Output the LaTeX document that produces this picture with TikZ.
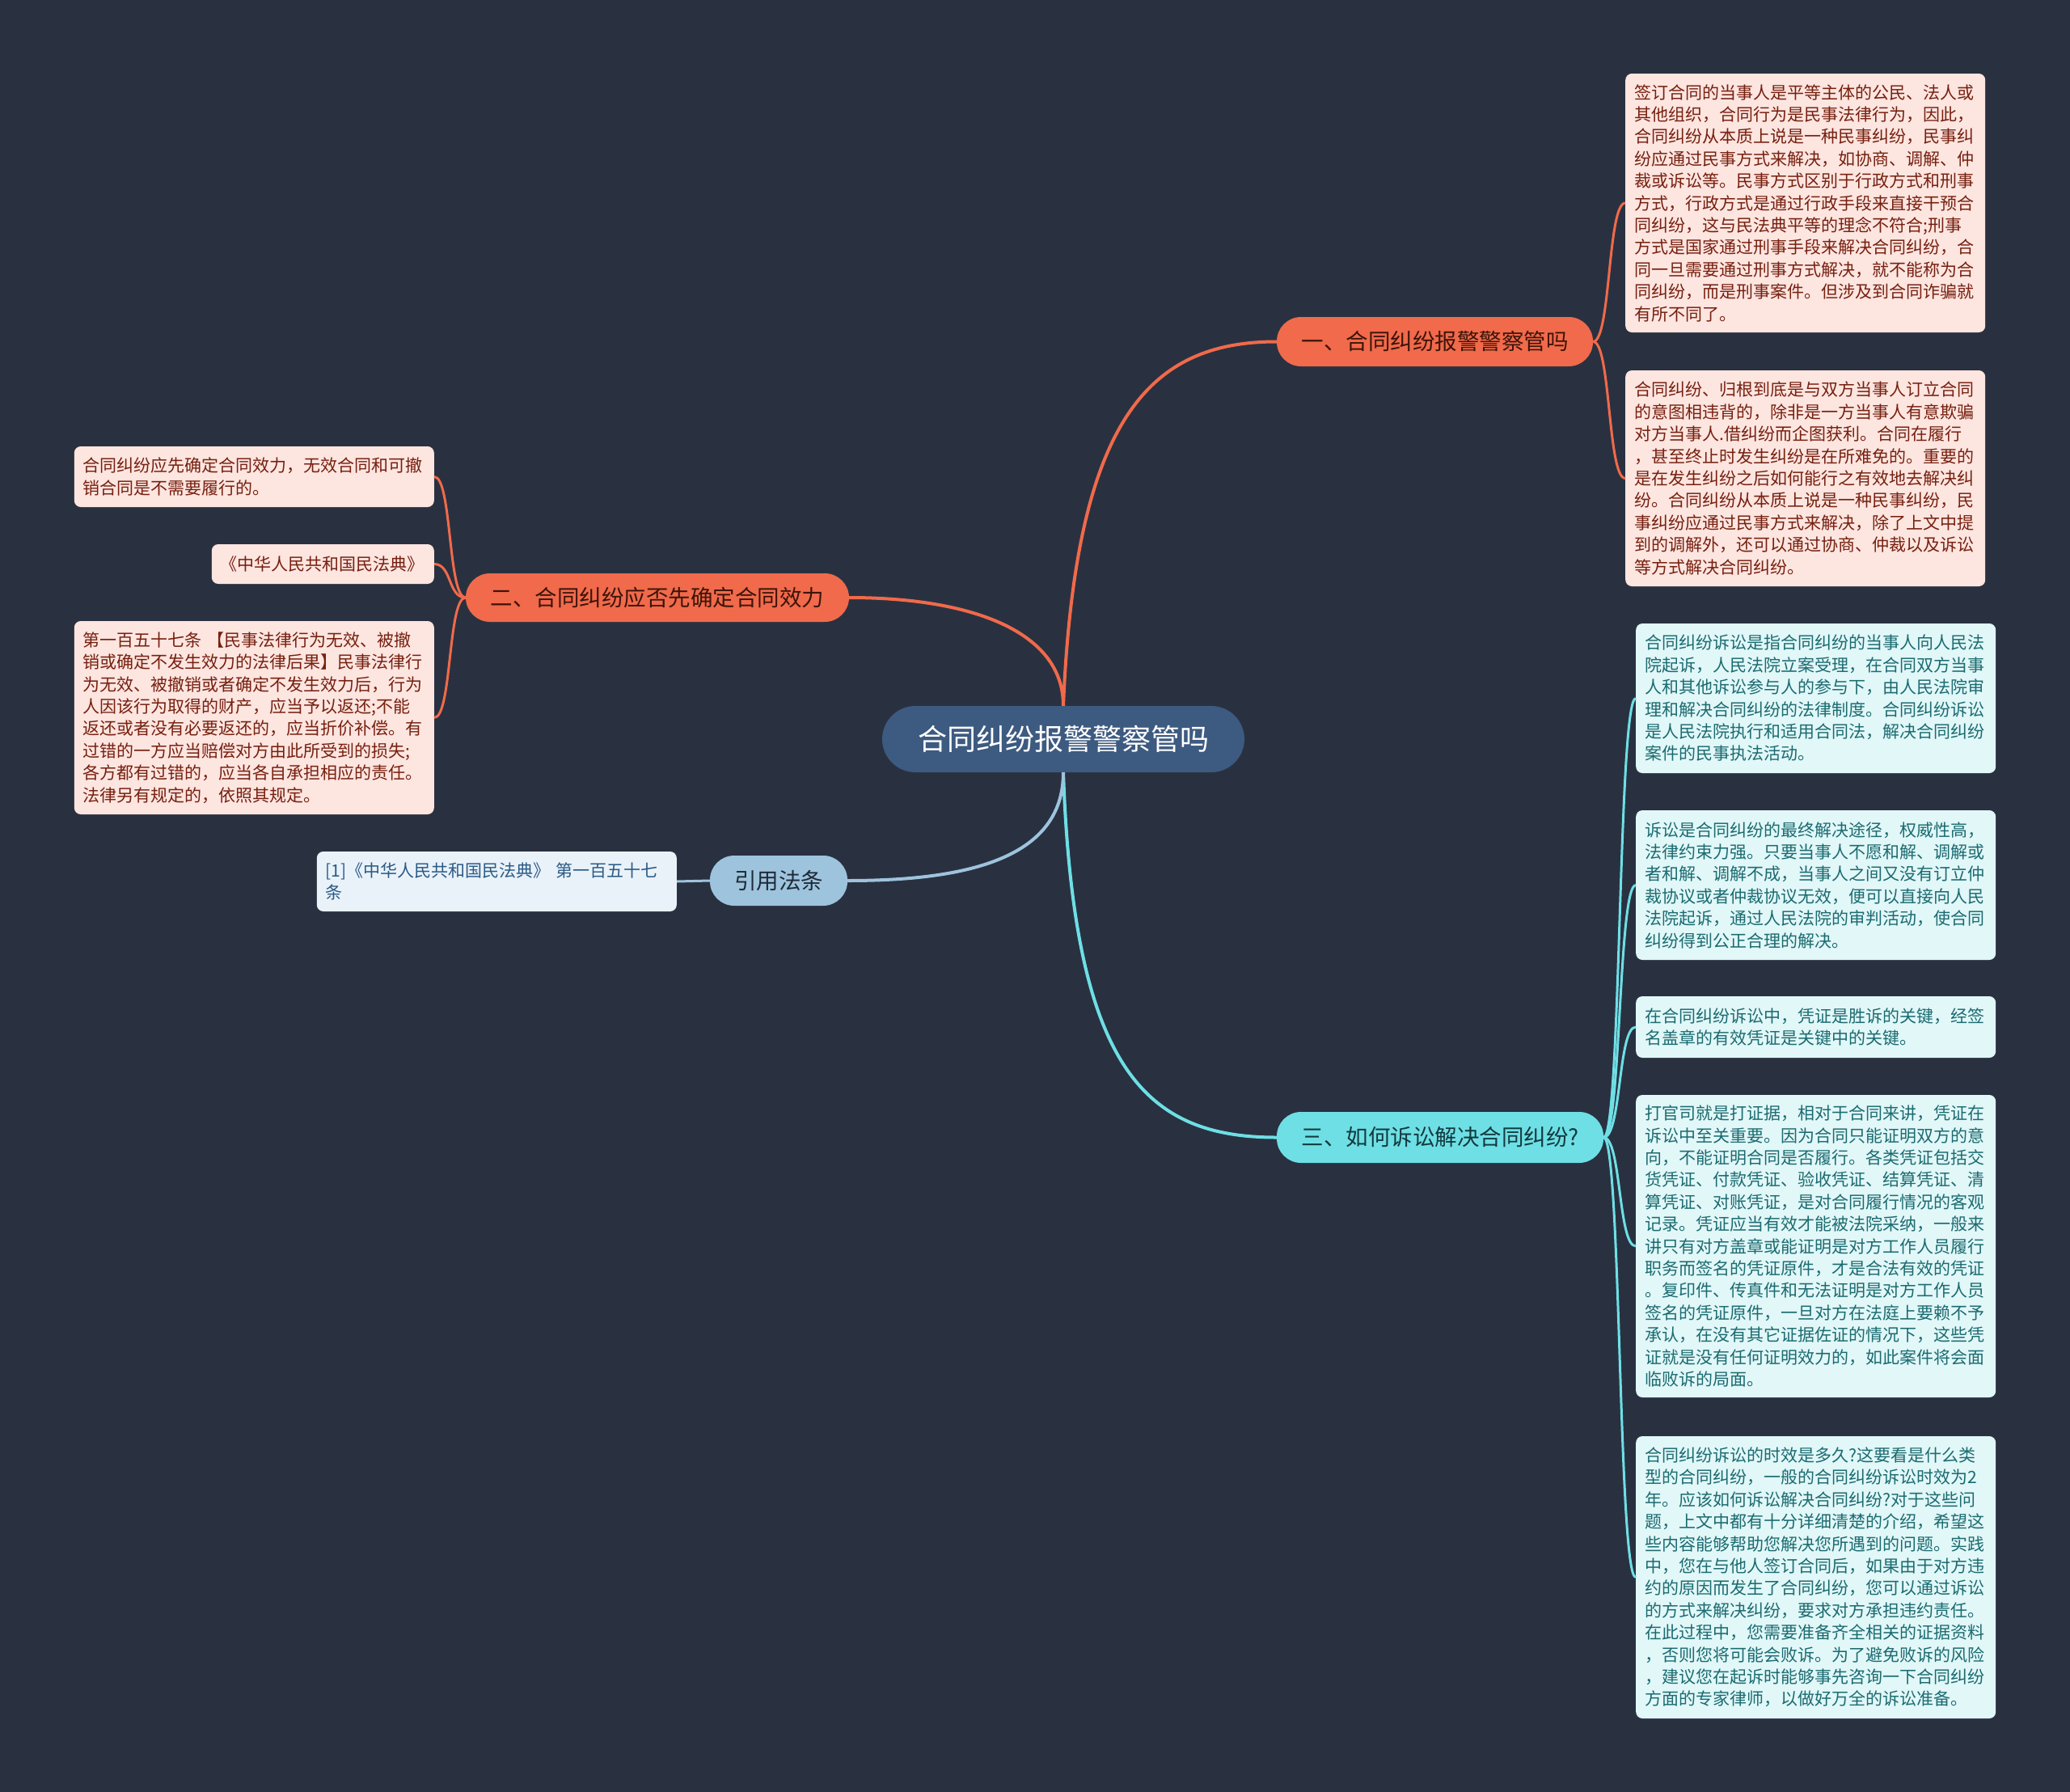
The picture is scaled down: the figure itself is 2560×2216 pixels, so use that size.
\documentclass[tikz,border=0pt]{standalone}
\usepackage{fontspec}
\setmainfont{Noto Sans CJK SC}
\definecolor{bg}{HTML}{293140}
\definecolor{orng}{HTML}{F06A4B}
\definecolor{pinkfill}{HTML}{FDE5E0}
\definecolor{pinktext}{HTML}{76200F}
\definecolor{b1text}{HTML}{3D1409}
\definecolor{cyanline}{HTML}{6EDFE5}
\definecolor{cyanfill}{HTML}{E1F7F8}
\definecolor{cyantext}{HTML}{1B6B70}
\definecolor{b3text}{HTML}{123A3E}
\definecolor{rootfill}{HTML}{3D5A80}
\definecolor{refline}{HTML}{9EC3DD}
\definecolor{reffill}{HTML}{E9F2F9}
\definecolor{reftext}{HTML}{2A5A86}
\definecolor{refnodetext}{HTML}{1E2A38}
\begin{document}
\begin{tikzpicture}[x=1pt,y=-1pt,
  rootnode/.style={rounded corners=41pt, fill=rootfill, text=white, font=\fontsize{36}{40}\selectfont, minimum width=448pt, minimum height=82pt, inner sep=0pt},
  branchnode/.style={rounded corners=30pt, minimum height=61pt, inner sep=0pt, font=\fontsize{27.5}{30}\selectfont},
  leafbox/.style={rounded corners=8pt, inner xsep=11pt, inner ysep=0pt, align=left, font=\fontsize{21}{27.4}\selectfont},
  pinkleaf/.style={leafbox, fill=pinkfill, text=pinktext},
  cyanleaf/.style={leafbox, fill=cyanfill, text=cyantext},
  mainline/.style={line width=4pt},
  subline/.style={line width=3pt}
]
\useasboundingbox (0,0) rectangle (2560,2216);
\fill[bg] (0,0) rectangle (2560,2216);

% root and branches
\node[rootnode] (root) at (1315,914) {合同纠纷报警警察管吗};
\node[branchnode, fill=orng, text=b1text, minimum width=391pt] (b1) at (1774.5,422.5) {一、合同纠纷报警警察管吗};
\node[branchnode, fill=orng, text=b1text, minimum width=474pt, minimum height=60pt] (b2) at (813,739) {二、合同纠纷应否先确定合同效力};
\node[branchnode, fill=cyanline, text=b3text, minimum width=404pt, minimum height=63pt] (b3) at (1781,1406.5) {三、如何诉讼解决合同纠纷?};
\node[branchnode, fill=refline, text=refnodetext, minimum width=170pt, minimum height=62pt] (rf) at (963,1089) {引用法条};

% branch 1 leaves
\node[pinkleaf, anchor=west, text width=423pt, minimum height=320pt] (p1) at (2010,251) {签订合同的当事人是平等主体的公民、法人或\\其他组织，合同行为是民事法律行为，因此，\\合同纠纷从本质上说是一种民事纠纷，民事纠\\纷应通过民事方式来解决，如协商、调解、仲\\裁或诉讼等。民事方式区别于行政方式和刑事\\方式，行政方式是通过行政手段来直接干预合\\同纠纷，这与民法典平等的理念不符合;刑事\\方式是国家通过刑事手段来解决合同纠纷，合\\同一旦需要通过刑事方式解决，就不能称为合\\同纠纷，而是刑事案件。但涉及到合同诈骗就\\有所不同了。};
\node[pinkleaf, anchor=west, text width=423pt, minimum height=267pt] (p2) at (2010,591.5) {合同纠纷、归根到底是与双方当事人订立合同\\的意图相违背的，除非是一方当事人有意欺骗\\对方当事人.借纠纷而企图获利。合同在履行\\，甚至终止时发生纠纷是在所难免的。重要的\\是在发生纠纷之后如何能行之有效地去解决纠\\纷。合同纠纷从本质上说是一种民事纠纷，民\\事纠纷应通过民事方式来解决，除了上文中提\\到的调解外，还可以通过协商、仲裁以及诉讼\\等方式解决合同纠纷。};

% branch 2 leaves
\node[pinkleaf, anchor=east, text width=423pt, minimum height=75pt] (la) at (537,589.5) {合同纠纷应先确定合同效力，无效合同和可撤\\销合同是不需要履行的。};
\node[pinkleaf, anchor=east, text width=253pt, minimum height=49pt] (lb) at (537,697.5) {《中华人民共和国民法典》};
\node[pinkleaf, anchor=east, text width=423pt, minimum height=239pt] (lc) at (537,887.5) {第一百五十七条 【民事法律行为无效、被撤\\销或确定不发生效力的法律后果】民事法律行\\为无效、被撤销或者确定不发生效力后，行为\\人因该行为取得的财产，应当予以返还;不能\\返还或者没有必要返还的，应当折价补偿。有\\过错的一方应当赔偿对方由此所受到的损失;\\各方都有过错的，应当各自承担相应的责任。\\法律另有规定的，依照其规定。};

% reference leaf
\node[leafbox, fill=reffill, text=reftext, anchor=east, text width=423pt, minimum height=74pt] (rl) at (837,1090) {[1]《中华人民共和国民法典》 第一百五十七\\条};

% branch 3 leaves
\node[cyanleaf, anchor=west, text width=423pt, minimum height=185pt] (c1) at (2023,863.5) {合同纠纷诉讼是指合同纠纷的当事人向人民法\\院起诉，人民法院立案受理，在合同双方当事\\人和其他诉讼参与人的参与下，由人民法院审\\理和解决合同纠纷的法律制度。合同纠纷诉讼\\是人民法院执行和适用合同法，解决合同纠纷\\案件的民事执法活动。};
\node[cyanleaf, anchor=west, text width=423pt, minimum height=185pt] (c2) at (2023,1094.5) {诉讼是合同纠纷的最终解决途径，权威性高，\\法律约束力强。只要当事人不愿和解、调解或\\者和解、调解不成，当事人之间又没有订立仲\\裁协议或者仲裁协议无效，便可以直接向人民\\法院起诉，通过人民法院的审判活动，使合同\\纠纷得到公正合理的解决。};
\node[cyanleaf, anchor=west, text width=423pt, minimum height=76pt] (c3) at (2023,1270) {在合同纠纷诉讼中，凭证是胜诉的关键，经签\\名盖章的有效凭证是关键中的关键。};
\node[cyanleaf, anchor=west, text width=423pt, minimum height=374pt] (c4) at (2023,1541) {打官司就是打证据，相对于合同来讲，凭证在\\诉讼中至关重要。因为合同只能证明双方的意\\向，不能证明合同是否履行。各类凭证包括交\\货凭证、付款凭证、验收凭证、结算凭证、清\\算凭证、对账凭证，是对合同履行情况的客观\\记录。凭证应当有效才能被法院采纳，一般来\\讲只有对方盖章或能证明是对方工作人员履行\\职务而签名的凭证原件，才是合法有效的凭证\\。复印件、传真件和无法证明是对方工作人员\\签名的凭证原件，一旦对方在法庭上要赖不予\\承认，在没有其它证据佐证的情况下，这些凭\\证就是没有任何证明效力的，如此案件将会面\\临败诉的局面。};
\node[cyanleaf, anchor=west, text width=423pt, minimum height=349pt] (c5) at (2023,1950.5) {合同纠纷诉讼的时效是多久?这要看是什么类\\型的合同纠纷，一般的合同纠纷诉讼时效为2\\年。应该如何诉讼解决合同纠纷?对于这些问\\题，上文中都有十分详细清楚的介绍，希望这\\些内容能够帮助您解决您所遇到的问题。实践\\中，您在与他人签订合同后，如果由于对方违\\约的原因而发生了合同纠纷，您可以通过诉讼\\的方式来解决纠纷，要求对方承担违约责任。\\在此过程中，您需要准备齐全相关的证据资料\\，否则您将可能会败诉。为了避免败诉的风险\\，建议您在起诉时能够事先咨询一下合同纠纷\\方面的专家律师，以做好万全的诉讼准备。};

% main connectors
\begin{scope}[on background layer/.style={}]
\draw[orng, mainline] (root.north) .. controls (1330,520) and (1420,422.5) .. (b1.west);
\draw[orng, mainline] (root.north) .. controls (1315,780) and (1200,739) .. (b2.east);
\draw[cyanline, mainline] (root.south) .. controls (1328,1320) and (1415,1406.5) .. (b3.west);
\draw[refline, mainline] (root.south) .. controls (1315,1060) and (1200,1089) .. (rf.east);
\end{scope}

% sub connectors
\foreach \n in {p1,p2}
  \draw[orng, subline] (b1.east) .. controls +(22,0) and +(-22,0) .. (\n.west);
\foreach \n in {la,lb,lc}
  \draw[orng, subline] (b2.west) .. controls +(-22,0) and +(22,0) .. (\n.east);
\foreach \n in {c1,c2,c3,c4,c5}
  \draw[cyanline, subline] (b3.east) .. controls +(22,0) and +(-22,0) .. (\n.west);
\draw[refline, subline] (rf.west) -- (rl.east);
\end{tikzpicture}
\end{document}
